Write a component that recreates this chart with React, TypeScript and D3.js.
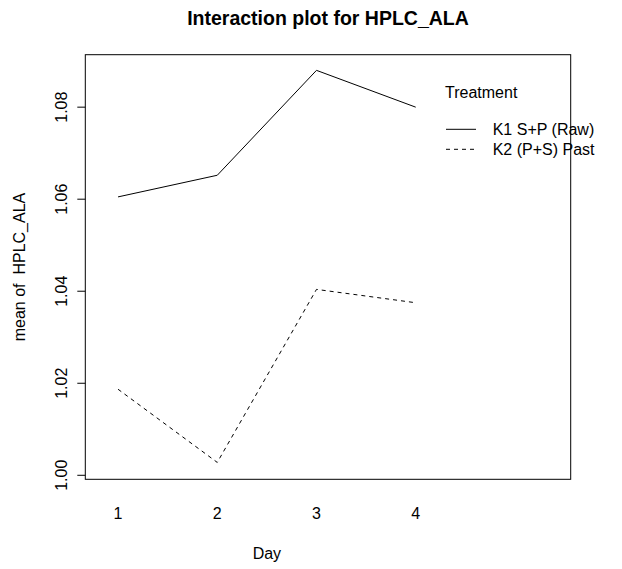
import React from "react";
import * as d3 from "d3";

const days = [1, 2, 3, 4];
const dayLabels = ["1", "2", "3", "4"];
const seriesNames = ["K1 S+P (Raw)", "K2 (P+S) Past"];
const k1Values = [1.0605, 1.0652, 1.088, 1.08];
const k2Values = [1.0187, 1.0028, 1.0404, 1.0375];
const yTicks = [1.0, 1.02, 1.04, 1.06, 1.08];

const W = 622;
const H = 569;
const plot = { left: 85.3, right: 570.7, top: 54.7, bottom: 479.3 };
const FONT = "'Liberation Sans', Arial, Helvetica, sans-serif";

export default function App() {
  const x = d3.scaleLinear().domain([0.67, 5.562]).range([plot.left, plot.right]);
  const y = d3.scaleLinear().domain([0.99913, 1.0914]).range([plot.bottom, plot.top]);
  const line = d3
    .line<[number, number]>()
    .x((d) => x(d[0]))
    .y((d) => y(d[1]));

  const series = [
    { name: seriesNames[0], values: k1Values, dash: undefined as string | undefined },
    { name: seriesNames[1], values: k2Values, dash: "4,4" },
  ];

  const legendX = 445;
  const legendLineX1 = 446;
  const legendLineX2 = 476;
  const legendTextX = 492.7;
  const legendYs = [129.3, 149.3];

  return (
    <svg
      width={W}
      height={H}
      style={{ position: "absolute", left: 0, top: 0, background: "#fff" }}
      fontFamily={FONT}
    >
      <rect x={0} y={0} width={W} height={H} fill="#fff" />
      <text x={328} y={24.5} textAnchor="middle" fontSize={19.5} fontWeight="bold" fill="#000">
        Interaction plot for HPLC_ALA
      </text>

      {series.map((s) => (
        <path
          key={s.name}
          d={line(days.map((d, i) => [d, s.values[i]] as [number, number])) || ""}
          fill="none"
          stroke="#000"
          strokeWidth={1}
          strokeDasharray={s.dash}
        />
      ))}

      <rect
        x={plot.left}
        y={plot.top}
        width={plot.right - plot.left}
        height={plot.bottom - plot.top}
        fill="none"
        stroke="#000"
        strokeWidth={1}
      />

      {yTicks.map((t) => (
        <g key={t}>
          <line x1={plot.left - 8} x2={plot.left} y1={y(t)} y2={y(t)} stroke="#000" strokeWidth={1} />
          <text
            transform={`translate(66.5,${y(t)}) rotate(-90)`}
            textAnchor="middle"
            fontSize={16}
            fill="#000"
          >
            {t.toFixed(2)}
          </text>
        </g>
      ))}

      {days.map((d, i) => (
        <text key={d} x={x(d)} y={518.7} textAnchor="middle" fontSize={16} fill="#000">
          {dayLabels[i]}
        </text>
      ))}

      <text x={x(2.5)} y={559} textAnchor="middle" fontSize={16} fill="#000">
        Day
      </text>

      <text
        transform={`translate(25,${(plot.top + plot.bottom) / 2}) rotate(-90)`}
        textAnchor="middle"
        fontSize={16}
        fill="#000"
        style={{ whiteSpace: "pre" }}
      >
        {"mean of  HPLC_ALA"}
      </text>

      <text x={legendX} y={98} fontSize={16} fill="#000">
        Treatment
      </text>
      {series.map((s, i) => (
        <g key={s.name}>
          <line
            x1={legendLineX1}
            x2={legendLineX2}
            y1={legendYs[i]}
            y2={legendYs[i]}
            stroke="#000"
            strokeWidth={1}
            strokeDasharray={s.dash}
          />
          <text x={legendTextX} y={legendYs[i] + 5.6} fontSize={16} fill="#000">
            {s.name}
          </text>
        </g>
      ))}
    </svg>
  );
}
